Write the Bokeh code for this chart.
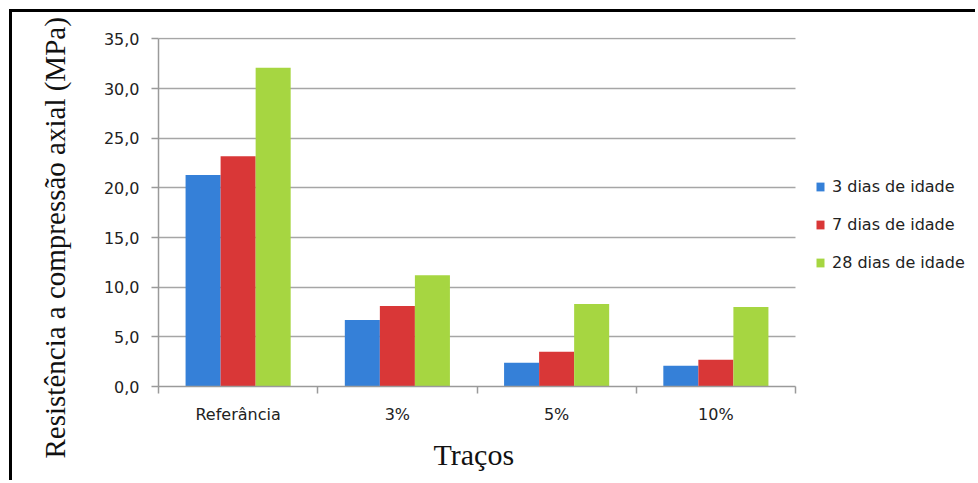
import numpy as np
from bokeh.plotting import figure
from bokeh.models import (ColumnDataSource, FixedTicker, CustomJSTickFormatter,
                          Legend, LegendItem, LinearAxis, Title, Range1d)
from bokeh.embed import file_html
from bokeh.resources import INLINE

categories = ["Referância", "3%", "5%", "10%"]
series_names = ["3 dias de idade", "7 dias de idade", "28 dias de idade"]
dias3 = [21.3, 6.7, 2.4, 2.1]
dias7 = [23.2, 8.1, 3.5, 2.7]
dias28 = [32.1, 11.2, 8.3, 8.0]
colors = ["#3580d8", "#d93737", "#a6d641"]
y_ticks = [0, 5, 10, 15, 20, 25, 30, 35]
y_title = "Resistência a compressão axial  (MPa)"
x_title = "Traços"

n = len(categories)
centers = np.arange(n) + 0.5
bar_w = 0.22
offsets = [-bar_w, 0.0, bar_w]
x_end = n * 820 / 637  # frame continues under the legend area

p = figure(width=966, height=471, output_backend="svg", toolbar_location=None,
           x_range=Range1d(0, x_end), y_range=Range1d(0, 35.15),
           min_border_left=146, min_border_right=0,
           min_border_top=25, min_border_bottom=97)
p.styles = {"margin-left": "9px", "margin-top": "9px",
            "border-left": "3px solid black", "border-top": "3px solid black"}
p.outline_line_color = None
p.background_fill_color = "white"
p.border_fill_color = "white"

renderers = []
for vals, off, col in zip([dias3, dias7, dias28], offsets, colors):
    src = ColumnDataSource(dict(x=centers + off, top=vals))
    r = p.vbar(x="x", top="top", width=bar_w, bottom=0, source=src,
               fill_color=col, line_color=None)
    renderers.append(r)

# x axis: labels at centres, ticks at category boundaries
xa = p.xaxis[0]
xa.bounds = (0, n)
xa.ticker = FixedTicker(ticks=list(centers), minor_ticks=list(range(n + 1)))
xa.major_label_overrides = {float(c): lab for c, lab in zip(centers, categories)}
xa.major_tick_line_color = None
xa.major_tick_out = 7
xa.minor_tick_in = 0
xa.minor_tick_out = 7
xa.minor_tick_line_color = "#9a9a9a"
xa.minor_tick_line_width = 1.5
xa.axis_line_color = "#9a9a9a"
xa.axis_line_width = 1.5
xa.major_label_standoff = 11
xa.major_label_text_font = "DejaVu Sans"
xa.major_label_text_font_size = "16px"
xa.major_label_text_color = "#222222"

xtitle = Title(text=x_title, align="left", vertical_align="top", offset=275,
               standoff=22, text_font="Liberation Serif", text_font_size="30px",
               text_font_style="normal", text_color="#111111")
p.add_layout(xtitle, "below")

ya = p.yaxis[0]
ya.bounds = (0, 35)
ya.ticker = FixedTicker(ticks=y_ticks)
ya.formatter = CustomJSTickFormatter(code="return tick.toFixed(1).replace('.', ',');")
ya.major_tick_in = 0
ya.major_tick_out = 7
ya.minor_tick_line_color = None
ya.major_tick_line_color = "#9a9a9a"
ya.major_tick_line_width = 1.5
ya.axis_line_color = "#9a9a9a"
ya.axis_line_width = 1.5
ya.major_label_standoff = 12
ya.major_label_text_font = "DejaVu Sans"
ya.major_label_text_font_size = "16px"
ya.major_label_text_color = "#222222"

# invisible spacer axis between the tick labels and the y title
spacer = LinearAxis(ticker=FixedTicker(ticks=[0]), axis_line_color=None,
                    major_tick_line_color=None, minor_tick_line_color=None,
                    major_tick_in=0, major_tick_out=20, minor_tick_in=0,
                    minor_tick_out=0, major_label_standoff=0,
                    major_label_overrides={0: ""},
                    axis_label_standoff=0)
p.add_layout(spacer, "left")

ytitle = Title(text=y_title, align="left", offset=-72, standoff=20,
               text_font="Liberation Serif", text_font_size="29px",
               text_font_style="normal", text_color="#111111")
p.add_layout(ytitle, "left")

p.xgrid.grid_line_color = None
p.ygrid.ticker = FixedTicker(ticks=y_ticks)
p.ygrid.cross_bounds = (0, n)
p.ygrid.grid_line_color = "#a6a6a6"
p.ygrid.grid_line_width = 1.5

legend = Legend(items=[LegendItem(label=nm, renderers=[r])
                       for nm, r in zip(series_names, renderers)],
                location=(657, 114), padding=0, margin=0, spacing=18,
                glyph_width=10, glyph_height=11, label_height=20,
                label_standoff=7, border_line_color=None,
                background_fill_alpha=0,
                label_text_font="DejaVu Sans", label_text_font_size="16px",
                label_text_color="#222222")
p.add_layout(legend, "center")

open("out.html", "w").write(file_html(p, INLINE))
